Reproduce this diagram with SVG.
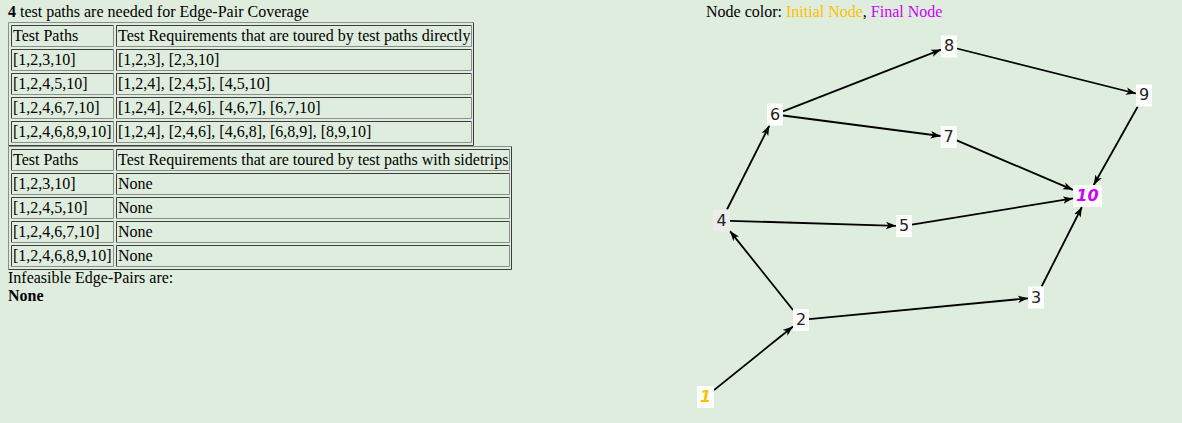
<svg xmlns="http://www.w3.org/2000/svg" width="1182" height="423" viewBox="0 0 1182 423">
<style>
.t{font-family:"Liberation Serif","Times New Roman",serif;font-size:16px;fill:#000}
.b{font-weight:bold}
.dk{fill:none;stroke:#3c3c3c;stroke-width:1}
.lt{fill:none;stroke:#8c8c8c;stroke-width:1}
.nb{fill:#fff;stroke:none}
.nl{font-family:"DejaVu Sans",Verdana,sans-serif;font-size:16px;fill:#222;text-anchor:middle}
.e{stroke:#000;stroke-width:1.8;fill:none;marker-end:url(#ah)}
</style>
<defs>
<marker id="ah" markerUnits="userSpaceOnUse" markerWidth="11" markerHeight="9" refX="10" refY="4.5" orient="auto">
<path d="M0,0.8 L10,4.5 L0,8.2 L2.5,4.5 z" fill="#000"/>
</marker>
</defs>
<rect width="1182" height="423" fill="#deeddd"/>

<g id="header">
<text class="t" x="8" y="17"><tspan class="b">4</tspan> test paths are needed for Edge-Pair Coverage</text>
</g>

<g id="table-direct">
<path class="lt" d="M8.5,145.5 V22.5 H473.5"/>
<path class="dk" d="M473.5,22.5 V145.5 H8.5"/>
<g id="t1-cells">
<path class="dk" d="M11.5,46.5 V25.5 H113.5"/><path class="lt" d="M113.5,25.5 V46.5 H11.5"/>
<path class="dk" d="M116.5,46.5 V25.5 H471.5"/><path class="lt" d="M471.5,25.5 V46.5 H116.5"/>
<path class="dk" d="M11.5,70.5 V49.5 H113.5"/><path class="lt" d="M113.5,49.5 V70.5 H11.5"/>
<path class="dk" d="M116.5,70.5 V49.5 H471.5"/><path class="lt" d="M471.5,49.5 V70.5 H116.5"/>
<path class="dk" d="M11.5,94.5 V73.5 H113.5"/><path class="lt" d="M113.5,73.5 V94.5 H11.5"/>
<path class="dk" d="M116.5,94.5 V73.5 H471.5"/><path class="lt" d="M471.5,73.5 V94.5 H116.5"/>
<path class="dk" d="M11.5,118.5 V97.5 H113.5"/><path class="lt" d="M113.5,97.5 V118.5 H11.5"/>
<path class="dk" d="M116.5,118.5 V97.5 H471.5"/><path class="lt" d="M471.5,97.5 V118.5 H116.5"/>
<path class="dk" d="M11.5,142.5 V121.5 H113.5"/><path class="lt" d="M113.5,121.5 V142.5 H11.5"/>
<path class="dk" d="M116.5,142.5 V121.5 H471.5"/><path class="lt" d="M471.5,121.5 V142.5 H116.5"/>
</g>
<text class="t" x="13" y="40.5">Test Paths</text>
<text class="t" x="118" y="40.5">Test Requirements that are toured by test paths directly</text>
<text class="t" x="13" y="64.5">[1,2,3,10]</text>
<text class="t" x="118" y="64.5">[1,2,3], [2,3,10]</text>
<text class="t" x="13" y="88.5">[1,2,4,5,10]</text>
<text class="t" x="118" y="88.5">[1,2,4], [2,4,5], [4,5,10]</text>
<text class="t" x="13" y="112.5">[1,2,4,6,7,10]</text>
<text class="t" x="118" y="112.5">[1,2,4], [2,4,6], [4,6,7], [6,7,10]</text>
<text class="t" x="13" y="136.5">[1,2,4,6,8,9,10]</text>
<text class="t" x="118" y="136.5">[1,2,4], [2,4,6], [4,6,8], [6,8,9], [8,9,10]</text>
</g>

<g id="table-sidetrips">
<path class="lt" d="M8.5,269.5 V146.5 H511.5"/>
<path class="dk" d="M511.5,146.5 V269.5 H8.5"/>
<g id="t2-cells">
<path class="dk" d="M11.5,170.5 V149.5 H113.5"/><path class="lt" d="M113.5,149.5 V170.5 H11.5"/>
<path class="dk" d="M116.5,170.5 V149.5 H509.5"/><path class="lt" d="M509.5,149.5 V170.5 H116.5"/>
<path class="dk" d="M11.5,194.5 V173.5 H113.5"/><path class="lt" d="M113.5,173.5 V194.5 H11.5"/>
<path class="dk" d="M116.5,194.5 V173.5 H509.5"/><path class="lt" d="M509.5,173.5 V194.5 H116.5"/>
<path class="dk" d="M11.5,218.5 V197.5 H113.5"/><path class="lt" d="M113.5,197.5 V218.5 H11.5"/>
<path class="dk" d="M116.5,218.5 V197.5 H509.5"/><path class="lt" d="M509.5,197.5 V218.5 H116.5"/>
<path class="dk" d="M11.5,242.5 V221.5 H113.5"/><path class="lt" d="M113.5,221.5 V242.5 H11.5"/>
<path class="dk" d="M116.5,242.5 V221.5 H509.5"/><path class="lt" d="M509.5,221.5 V242.5 H116.5"/>
<path class="dk" d="M11.5,266.5 V245.5 H113.5"/><path class="lt" d="M113.5,245.5 V266.5 H11.5"/>
<path class="dk" d="M116.5,266.5 V245.5 H509.5"/><path class="lt" d="M509.5,245.5 V266.5 H116.5"/>
</g>
<text class="t" x="13" y="164.5">Test Paths</text>
<text class="t" x="118" y="164.5">Test Requirements that are toured by test paths with sidetrips</text>
<text class="t" x="13" y="188.5">[1,2,3,10]</text>
<text class="t" x="118" y="188.5">None</text>
<text class="t" x="13" y="212.5">[1,2,4,5,10]</text>
<text class="t" x="118" y="212.5">None</text>
<text class="t" x="13" y="236.5">[1,2,4,6,7,10]</text>
<text class="t" x="118" y="236.5">None</text>
<text class="t" x="13" y="260.5">[1,2,4,6,8,9,10]</text>
<text class="t" x="118" y="260.5">None</text>
</g>

<g id="infeasible">
<text class="t" x="8" y="283">Infeasible Edge-Pairs are:</text>
<text class="t b" x="8" y="301">None</text>
</g>

<g id="legend">
<text class="t" x="706" y="17">Node color: <tspan fill="#ffc000">Initial Node</tspan>, <tspan fill="#cc00ff">Final Node</tspan></text>
</g>

<g id="edges">
<line class="e" x1="714" y1="390.1" x2="793" y2="326.5"/>
<line class="e" x1="793" y1="310" x2="730" y2="231.1"/>
<line class="e" x1="809" y1="319.2" x2="1028" y2="298.3"/>
<line class="e" x1="1041.6" y1="286.5" x2="1081.9" y2="207"/>
<line class="e" x1="727" y1="209.5" x2="769.4" y2="125.5"/>
<line class="e" x1="730" y1="220.8" x2="896" y2="225.8"/>
<line class="e" x1="783" y1="111.4" x2="941" y2="49.6"/>
<line class="e" x1="783" y1="115.5" x2="940.7" y2="136"/>
<line class="e" x1="957" y1="48.5" x2="1136" y2="93.5"/>
<line class="e" x1="956.7" y1="140.4" x2="1073" y2="189.8"/>
<line class="e" x1="912" y1="224.7" x2="1073" y2="198.4"/>
<line class="e" x1="1137.8" y1="106.5" x2="1093.7" y2="185"/>
</g>

<g id="node-1"><rect class="nb" x="697" y="386" width="17" height="22"/><text class="nl" x="705.5" y="402" style="font-weight:bold;font-style:italic;fill:#ffc000">1</text></g>
<g id="node-2"><rect class="nb" x="793" y="309" width="16" height="22"/><text class="nl" x="801" y="325">2</text></g>
<g id="node-3"><rect class="nb" x="1028" y="286.5" width="16" height="22"/><text class="nl" x="1036" y="302.5">3</text></g>
<g id="node-4"><rect x="713" y="209.5" width="17" height="22" fill="#ececec"/><text class="nl" x="721.5" y="225.5">4</text></g>
<g id="node-5"><rect class="nb" x="896" y="215" width="16" height="22"/><text class="nl" x="904" y="231">5</text></g>
<g id="node-6"><rect class="nb" x="767" y="103.5" width="16" height="22"/><text class="nl" x="775" y="119.5">6</text></g>
<g id="node-7"><rect class="nb" x="940.7" y="126" width="16" height="22"/><text class="nl" x="948.7" y="142">7</text></g>
<g id="node-8"><rect class="nb" x="941" y="35.5" width="16" height="22"/><text class="nl" x="949" y="51">8</text></g>
<g id="node-9"><rect class="nb" x="1136" y="84.5" width="16" height="22"/><text class="nl" x="1144" y="100">9</text></g>
<g id="node-10"><rect class="nb" x="1073" y="185" width="29" height="22"/><text class="nl" x="1087.5" y="201" style="font-weight:bold;font-style:italic;fill:#cc00ff">10</text></g>
</svg>
